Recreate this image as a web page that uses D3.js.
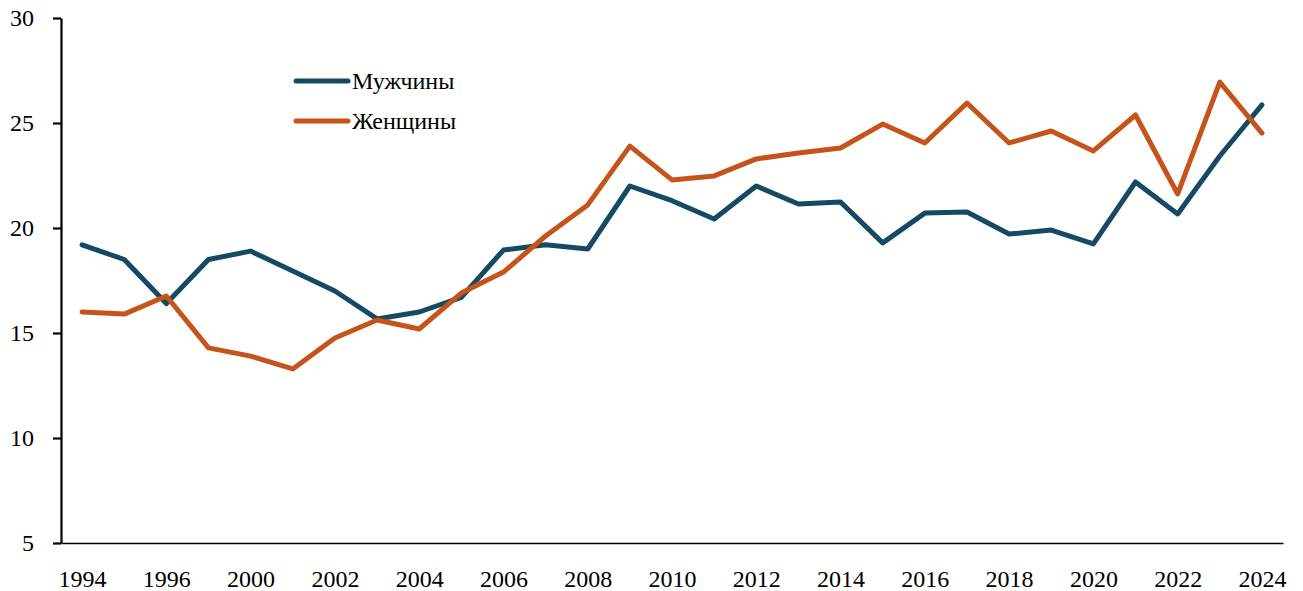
<!DOCTYPE html>
<html>
<head>
<meta charset="utf-8">
<style>
    body { margin: 0; background: #fff; }
    svg text { font-family: "Liberation Serif", "DejaVu Serif", serif; fill: #000; }
    .line { fill: none; stroke-width: 5px; stroke-linejoin: round; stroke-linecap: round; }
</style>
</head>
<body>
<svg width="1303" height="591"></svg>
<script src="https://cdnjs.cloudflare.com/ajax/libs/d3/7.8.5/d3.min.js"></script>
<script>

    var years = ["1994", "1995", "1996", "1998", "2000", "2001", "2002", "2003", "2004", "2005",
        "2006", "2007", "2008", "2009", "2010", "2011", "2012", "2013", "2014", "2015",
        "2016", "2017", "2018", "2019", "2020", "2021", "2022", "2023", "2024"];

    var men = [19.2, 18.5, 16.4, 18.5, 18.9, 17.95, 17.0, 15.67, 16.0, 16.7,
        18.95, 19.2, 19.0, 22.0, 21.3, 20.43, 22.0, 21.14, 21.24, 19.29,
        20.71, 20.76, 19.71, 19.9, 19.24, 22.19, 20.67, 23.43, 25.86];

    var women = [16.0, 15.9, 16.76, 14.29, 13.9, 13.29, 14.76, 15.62, 15.19, 16.9,
        17.9, 19.62, 21.1, 23.9, 22.29, 22.48, 23.29, 23.57, 23.81, 24.95,
        24.05, 25.95, 24.05, 24.62, 23.67, 25.38, 21.62, 26.95, 24.52];

    var tickYears = ["1994", "1996", "2000", "2002", "2004", "2006", "2008", "2010",
        "2012", "2014", "2016", "2018", "2020", "2022", "2024"];
    var yTicks = [5, 10, 15, 20, 25, 30];

    var series = [
        { name: "Мужчины", values: men, color: "#144a62" },
        { name: "Женщины", values: women, color: "#c4541a" }
    ];

    var svg = d3.select("svg"),
        plotLeft = 61, plotRight = 1283, plotTop = 18, plotBottom = 543;

    var x = d3.scalePoint().domain(years).range([plotLeft, plotRight]).padding(0.5);
    var y = d3.scaleLinear().domain([5, 30]).range([plotBottom, plotTop]);

    // y axis
    var yAxis = svg.append("g")
        .attr("transform", "translate(" + plotLeft + ",0)")
        .call(d3.axisLeft(y).tickValues(yTicks).tickSize(8).tickSizeOuter(0).tickPadding(19));
    yAxis.selectAll("path, line").attr("stroke", "#000").attr("stroke-width", 2.2);
    yAxis.selectAll("text").style("font-size", "24px").attr("font-family", null);

    // x axis
    var xAxis = svg.append("g")
        .attr("transform", "translate(0," + plotBottom + ")")
        .call(d3.axisBottom(x).tickValues(tickYears).tickSize(0).tickSizeOuter(0).tickPadding(27));
    xAxis.select(".domain").attr("stroke", "#000").attr("stroke-width", 1.6);
    xAxis.selectAll("text").style("font-size", "24px").attr("font-family", null);

    var line = d3.line()
        .x(function (d, i) { return x(years[i]); })
        .y(function (d) { return y(d); });

    svg.append("g").selectAll("path")
        .data(series)
        .enter().append("path")
        .attr("class", "line")
        .attr("stroke", function (d) { return d.color; })
        .attr("d", function (d) { return line(d.values); });

    // legend
    var legend = svg.append("g").selectAll("g")
        .data(series)
        .enter().append("g")
        .attr("transform", function (d, i) { return "translate(296," + (81 + i * 40) + ")"; });

    legend.append("line")
        .attr("x1", 0).attr("x2", 52)
        .attr("stroke", function (d) { return d.color; })
        .attr("stroke-width", 5)
        .attr("stroke-linecap", "round");

    legend.append("text")
        .attr("x", 56)
        .attr("dy", "0.35em")
        .style("font-size", "24px")
        .text(function (d) { return d.name; });

</script>
</body>
</html>
